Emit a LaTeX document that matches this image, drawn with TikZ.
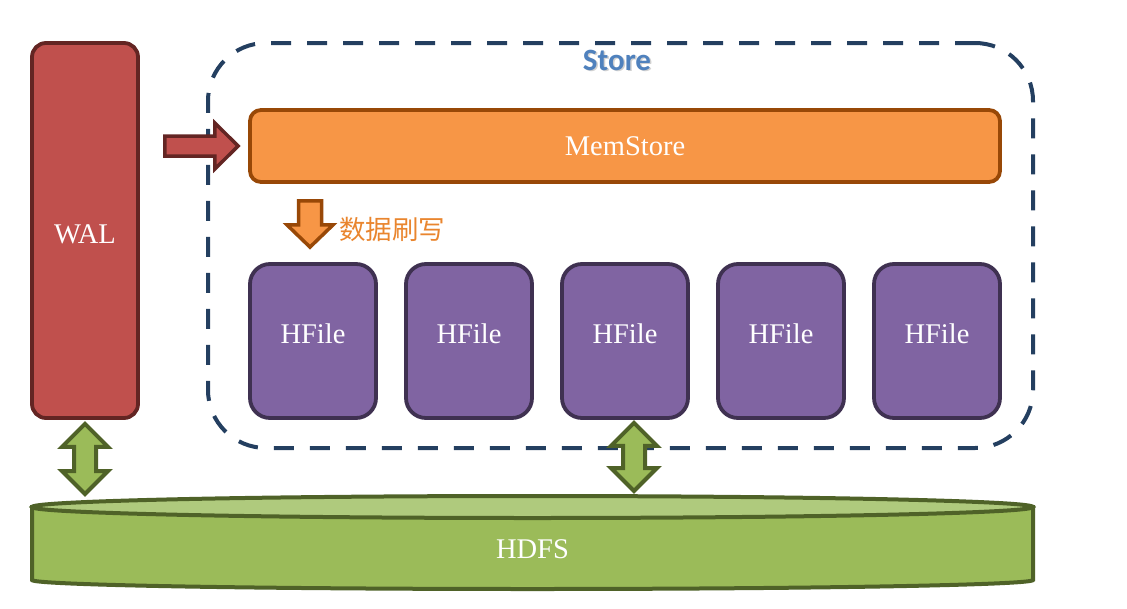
\documentclass[tikz,border=0pt]{standalone}
\usepackage{fontspec}
\setmainfont{Liberation Serif}
\newfontfamily\cjk{Noto Sans CJK SC}
\newfontfamily\calib{Carlito}
\usetikzlibrary{calc}
\definecolor{walfill}{HTML}{C0504D}
\definecolor{walline}{HTML}{632523}
\definecolor{memfill}{HTML}{F79646}
\definecolor{memline}{HTML}{984807}
\definecolor{hffill}{HTML}{8064A2}
\definecolor{hfline}{HTML}{3F3151}
\definecolor{gfill}{HTML}{9BBB59}
\definecolor{gtop}{HTML}{AFCA7D}
\definecolor{gline}{HTML}{4F6228}
\definecolor{storeline}{HTML}{243F60}
\definecolor{storetext}{HTML}{4F81BD}
\definecolor{flushtext}{HTML}{E9852E}
\newcommand\greendbl[2]{%
  \draw[greenarrow] (#1) -- ($(#1)+(23,23)$) -- ($(#1)+(11,23)$) -- ($(#2)+(11,-23)$) -- ($(#2)+(23,-23)$) -- (#2)
    -- ($(#2)+(-23,-23)$) -- ($(#2)+(-11,-23)$) -- ($(#1)+(-11,23)$) -- ($(#1)+(-23,23)$) -- cycle;}
\begin{document}
\begin{tikzpicture}[x=1pt,y=-1pt,
  lbl/.style={font=\fontsize{28.5}{31}\selectfont, text=white},
  box/.style={draw, line width=3.8pt, inner sep=0pt, lbl},
  walbox/.style={box, fill=walfill, draw=walline, rounded corners=14pt, minimum width=106pt, minimum height=375pt},
  membox/.style={box, fill=memfill, draw=memline, rounded corners=11pt, minimum width=750pt, minimum height=72pt},
  hfbox/.style={box, fill=hffill, draw=hfline, rounded corners=20pt, minimum width=126pt, minimum height=154pt, text depth=14pt},
  storebox/.style={draw=storeline, line width=4pt, dash pattern=on 20pt off 16pt, rounded corners=58pt, minimum width=825pt, minimum height=405pt},
  redarrow/.style={fill=walfill, draw=walline, line width=3.5pt, line join=miter},
  orangearrow/.style={fill=memfill, draw=memline, line width=3.5pt, line join=miter},
  greenarrow/.style={fill=gfill, draw=gline, line width=4pt, line join=miter},
  cyl/.style={fill=gfill, draw=gline, line width=4pt}]
\useasboundingbox (0,0) rectangle (1127,608);

% Store container
\node[storebox] (store) at (620.5,245.5) {};
\node[text=black!18, font=\calib\bfseries\fontsize{31}{34}\selectfont] (storeshadow) at (618.5,61.5) {Store};
\node[text=storetext, font=\calib\bfseries\fontsize{31}{34}\selectfont] (storelbl) at (617,60) {Store};

% WAL
\node[walbox, text height=25pt, text depth=0pt] (wal) at (85,230.5) {WAL};

% MemStore
\node[membox] (mem) at (625,146) {MemStore};

% HFiles
\node[hfbox] (h1) at (313,341) {HFile};
\node[hfbox] (h2) at (469,341) {HFile};
\node[hfbox] (h3) at (625,341) {HFile};
\node[hfbox] (h4) at (781,341) {HFile};
\node[hfbox] (h5) at (937,341) {HFile};

% HDFS cylinder
\draw[cyl] (32,507) -- (32,580) .. controls (32,585) and (256,589) .. (532.5,589)
  .. controls (809,589) and (1033,585) .. (1033,580) -- (1033,507) -- cycle;
\draw[cyl, fill=gtop] (532.5,507) ellipse [x radius=500.5, y radius=11];
\node[lbl] (hdfs) at (532.5,549) {HDFS};

% WAL -> MemStore arrow
\coordinate (rt) at ($(wal.east |- mem.west)+(25,0)$);
\coordinate (rh) at ($(mem.west)+(-10,0)$);
\draw[redarrow] ($(rt)+(0,-10)$) -- ($(rt)+(50,-10)$) -- ($(rt)+(50,-23)$) -- (rh)
  -- ($(rt)+(50,23)$) -- ($(rt)+(50,10)$) -- ($(rt)+(0,10)$) -- cycle;

% MemStore -> HFile flush arrow
\coordinate (ot) at ($(mem.south -| h1.north)+(-3,17)$);
\coordinate (oh) at ($(h1.north)+(-3,-15)$);
\draw[orangearrow] ($(ot)+(-11.5,0)$) -- ($(ot)+(11.5,0)$) -- ($(ot)+(11.5,24)$) -- ($(ot)+(23,24)$) -- (oh)
  -- ($(ot)+(-23,24)$) -- ($(ot)+(-11.5,24)$) -- cycle;
\node[anchor=west, text=flushtext, font=\cjk\fontsize{26.5}{29}\selectfont, inner sep=0pt] (flush) at (339,229) {数据刷写};

% WAL <-> HDFS, Store <-> HDFS
\coordinate (g1a) at ($(wal.south)+(0,4)$);
\coordinate (g1b) at (85,494);
\greendbl{g1a}{g1b}
\coordinate (g2a) at ($(h3.south)+(9,3)$);
\coordinate (g2b) at (634,491);
\greendbl{g2a}{g2b}
\end{tikzpicture}
\end{document}
